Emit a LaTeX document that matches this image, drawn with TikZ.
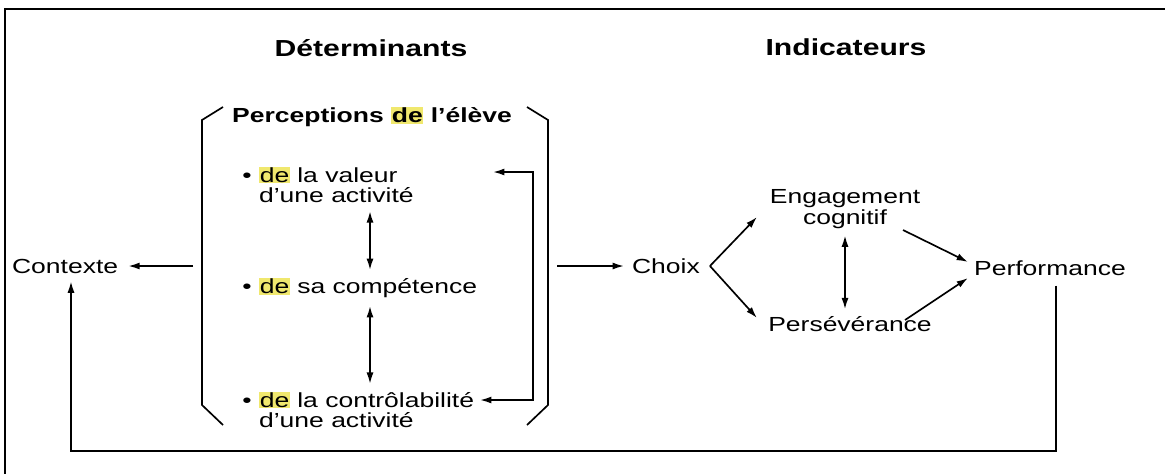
\documentclass[tikz,border=0pt]{standalone}
\usepackage{fontspec}
\setmainfont{Liberation Sans}[FakeStretch=1.3]
\usepackage{tikz}
\usetikzlibrary{arrows.meta,calc,positioning}
\definecolor{hlyellow}{RGB}{240,232,110}
\newcommand{\hlde}{{\setlength{\fboxsep}{0.4pt}\colorbox{hlyellow}{de}}}

\begin{document}
\begin{tikzpicture}[
		x=0.02cm, y=-0.02cm,
		thin line/.style={line width=0.95pt},
		frame line/.style={line width=1.5pt},
		every node/.style={color=black, inner sep=1pt, font=\fontsize{11.6}{11.6}\selectfont},
		>={Latex[length=6.5pt,width=4pt]},
		]
		\tikzset{
			headNode/.style={font=\fontsize{13.2}{15}\selectfont\bfseries},
			itemNode/.style={anchor=west, align=left},
			plainNode/.style={align=center},
		}
		\useasboundingbox (0,0) rectangle (1165,474);
		
		% cadre
		\draw[frame line] (1165,9) -- (5,9) -- (5,474);
		
		% titres
		\node[headNode] (det) at (371,48) {Déterminants};
		\node[headNode] (ind) at (846,47) {Indicateurs};
		\node[headNode, font=\fontsize{11.6}{12}\selectfont\bfseries] (perc) at (372,117) {Perceptions \hlde{} l'élève};
		
		% crochets
		\draw[thin line] (223,107) -- (202,120) -- (202,405) -- (223,425);
		\draw[thin line] (527,107) -- (548,120) -- (548,405) -- (527,425);
		\coordinate (bl) at (193,266);
		\coordinate (br) at (557,266);
		
		% perceptions
		\node[itemNode] (val) at (257,185) {\llap{\textbullet\ }\hlde{} la valeur\\d'une activité};
		\node[itemNode] (comp) at (257,288) {\llap{\textbullet\ }\hlde{} sa compétence};
		\node[itemNode] (ctrl) at (257,410) {\llap{\textbullet\ }\hlde{} la contrôlabilité\\d'une activité};
		
		\coordinate (ax) at (370,0);
		\draw[thin line,<->] ($(val.south -| ax)+(0,6)$) -- ($(comp.north -| ax)+(0,-6)$);
		\draw[thin line,<->] ($(comp.south -| ax)+(0,6)$) -- ($(ctrl.north -| ax)+(0,-6)$);
		
		\coordinate (tv) at (493,172);
		\coordinate (tc) at (480,400);
		\coordinate (fr) at (533,0);
		\draw[thin line,<->] (tv) -- (tv -| fr) -- (tc -| fr) -- (tc);
		
		% contexte et indicateurs
		\node[anchor=west] (ctx) at (10,266) {Contexte};
		\node[anchor=west] (cho) at (630,266) {Choix};
		\node[plainNode] (eng) at (845,209) {Engagement\\cognitif};
		\node[plainNode] (pers) at (850,324) {Persévérance};
		\node[anchor=west] (perf) at (972,268) {Performance};
		
		\draw[thin line,->] (bl) -- ($(ctx.east)+(8,0)$);
		\draw[thin line,->] (br) -- ($(cho.west)+(-6,0)$);
		
		\draw[thin line,->] ($(cho.east)+(8,0)$) -- (757,217) coordinate (te);
		\draw[thin line,->] ($(cho.east)+(8,0)$) -- (757,318) coordinate (tp);
		\draw[thin line,<->] ($(eng.south)+(0,5)$) -- ($(pers.north -| eng)+(0,-5)$);
		\draw[thin line,->] (903,230) coordinate (se) -- ($(perf.west)+(-4,-6)$);
		\draw[thin line,->] (905,320) coordinate (sp) -- ($(perf.west)+(-4,10)$);
		
		% boucle de retour
		\coordinate (pf) at (1056,0);
		\coordinate (cx) at (71,0);
		\coordinate (bot) at (0,451);
		\draw[thin line,->] ($(perf.south -| pf)+(0,8)$) -- (pf |- bot) -- (cx |- bot) -- ($(ctx.south -| cx)+(0,6)$);
	\end{tikzpicture}
\end{document}
